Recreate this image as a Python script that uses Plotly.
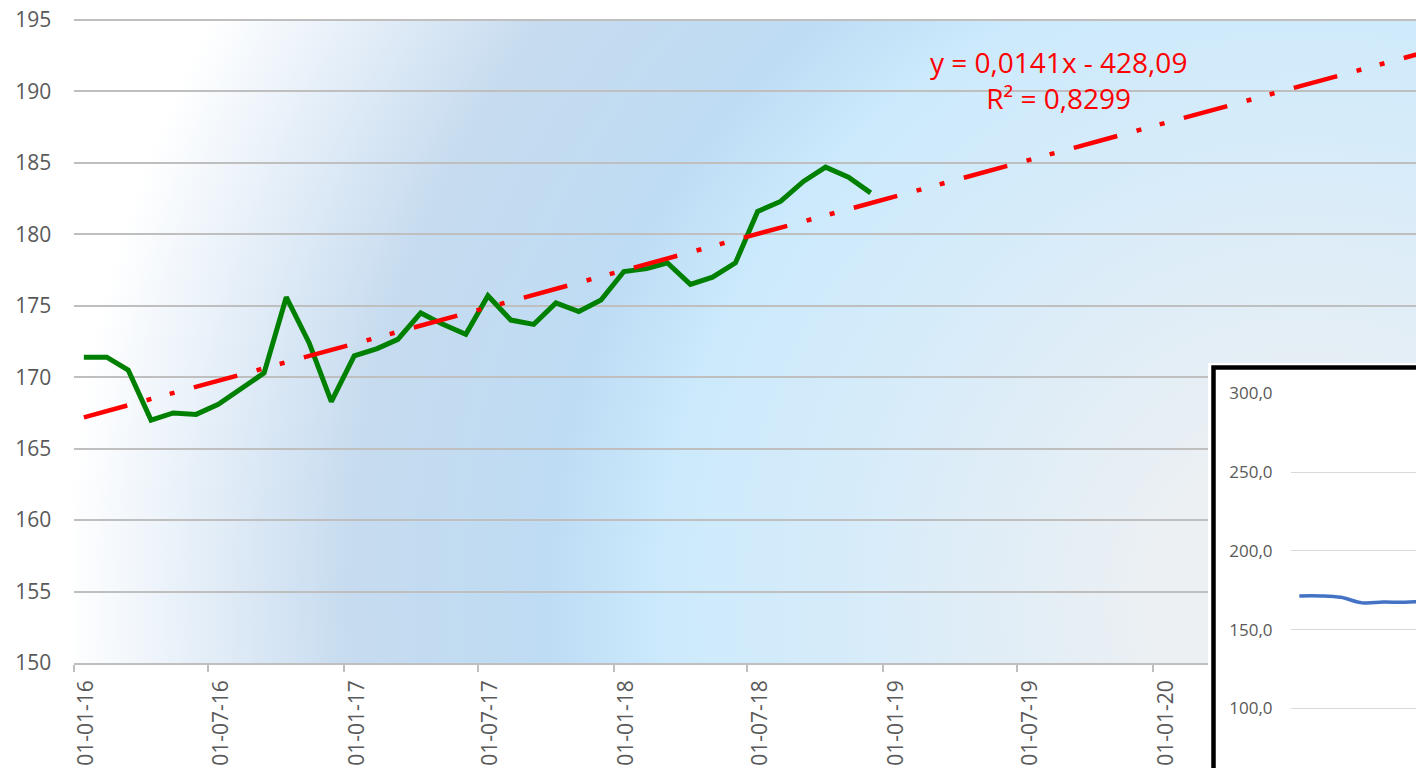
import base64
import numpy as np
import pandas as pd
import plotly.graph_objects as go

# ---------------- data ----------------
dates = pd.date_range("2016-01-15", periods=36, freq=pd.DateOffset(months=1))
values = [171.4, 171.4, 170.5, 167.0, 167.5, 167.4, 168.1, 169.2, 170.3, 175.6, 172.4, 168.3,
          171.5, 172.0, 172.65, 174.5, 173.7, 173.0, 175.7, 174.0, 173.7, 175.2, 174.6, 175.4,
          177.4, 177.6, 178.0, 176.5, 177.0, 178.0, 181.6, 182.3, 183.7, 184.7, 184.0, 182.9]
trend_forecast_end = pd.Timestamp("2021-06-15")
trend_text = "y = 0,0141x - 428,09<br>R² = 0,8299"

main_x_range = ["2016-01-01", "2021-01-02"]
main_x_ticks = ["2016-01-01", "2016-07-01", "2017-01-01", "2017-07-01", "2018-01-01",
                "2018-07-01", "2019-01-01", "2019-07-01", "2020-01-01", "2020-07-01"]
main_y_range = [150, 195.1]
main_y_ticks = [150, 155, 160, 165, 170, 175, 180, 185, 190, 195]
inset_x_range = ["2016-01-03", "2016-07-13"]
inset_y_range = [57.0 + 8 / 1.542, 300.5]
inset_y_ticks = [100, 150, 200, 250, 300]

# ---------------- linear trend (least squares on days) ----------------
days = np.array([(d - dates[0]).days for d in dates], dtype=float)
slope, intercept = np.polyfit(days, np.array(values), 1)
trend_x = [dates[0], trend_forecast_end]
trend_y = [intercept, intercept + slope * (trend_forecast_end - dates[0]).days]

# page body has an 8px margin: figure is placed at (8, 8) in the 1424x768 window
OFF = 8
W, H = 1424 - OFF, 768 - OFF


def px(x):
    return (x - OFF) / W


def py(y):
    return (H - (y - OFF)) / H


FONT = "Open Sans, Liberation Sans, sans-serif"
TICK_FONT = dict(family=FONT, size=21, color="#595959")
Y_PX_PER_UNIT = (663 - 20) / 45.0

# ---------------- gradient background (radial, Excel-like) ----------------
stops = [(0.00, "#EEF0F2"), (0.12, "#ECF0F3"), (0.27, "#DFEDF7"), (0.40, "#D4EBFA"),
         (0.52, "#CCEAFC"), (0.61, "#BEDCF4"), (0.77, "#C6DBEF"), (0.89, "#E4EEF8"),
         (1.00, "#FFFFFF")]
stop_xml = "".join(f"<stop offset='{o}' stop-color='{c}'/>" for o, c in stops)
svg = (f"<svg xmlns='http://www.w3.org/2000/svg' width='{W}' height='{H}' viewBox='0 0 {W} {H}' "
       f"preserveAspectRatio='none'><defs><radialGradient id='g' gradientUnits='userSpaceOnUse' "
       f"cx='{1306 - OFF}' cy='{600 - OFF}' r='1240'>{stop_xml}</radialGradient></defs>"
       f"<rect x='{73.5 - OFF}' y='{21 - OFF}' width='{W - 73.5 + OFF}' height='642' "
       f"fill='url(#g)'/></svg>")
svg_uri = "data:image/svg+xml;base64," + base64.b64encode(svg.encode()).decode()

fig = go.Figure()

# main series
fig.add_trace(go.Scatter(x=dates, y=values, mode="lines",
                         line=dict(color="#008000", width=5, shape="linear"),
                         xaxis="x", yaxis="y", showlegend=False, hoverinfo="skip"))
# trendline
fig.add_trace(go.Scatter(x=trend_x, y=trend_y, mode="lines",
                         line=dict(color="#FF0000", width=4.5,
                                   dash="45px,20px,5px,19px,5px,20px"),
                         xaxis="x", yaxis="y", showlegend=False, hoverinfo="skip"))
# placeholder for the inset frame subplot
fig.add_trace(go.Scatter(x=[], y=[], xaxis="x2", yaxis="y2", showlegend=False))
# inset chart
fig.add_trace(go.Scatter(x=dates, y=values, mode="lines",
                         line=dict(color="#4472C4", width=3.5, shape="spline"),
                         xaxis="x3", yaxis="y3", showlegend=False, hoverinfo="skip"))

frame_left, frame_top = 1208, 363
frame_w = (1424 - frame_left)
frame_h = (768 - frame_top)

fig.update_layout(
    template="none",
    width=W, height=H,
    margin=dict(l=0, r=0, t=0, b=0, pad=0),
    paper_bgcolor="white", plot_bgcolor="white",
    separators=", ",
    showlegend=False,
    xaxis=dict(domain=[px(73.5), 1], range=main_x_range, type="date", anchor="y",
               tickmode="array", tickvals=main_x_ticks, tickformat="%d-%m-%y",
               tickangle=-90, ticks="outside", ticklen=7, tickwidth=1.5, tickcolor="#BFBFBF",
               showline=True, linecolor="#BFBFBF", linewidth=1.5,
               showgrid=False, zeroline=False, tickfont=TICK_FONT,
               ticklabelshift=13, ticklabeloverflow="allow",
               automargin=False, fixedrange=True),
    yaxis=dict(domain=[py(663), py(20 - 0.1 * Y_PX_PER_UNIT)], range=main_y_range, anchor="x",
               tickmode="array", tickvals=main_y_ticks, ticks="outside", ticklen=17,
               tickcolor="rgba(0,0,0,0)", ticklabeloverflow="allow",
               showline=False, showgrid=True, gridcolor="#BFBFBF", gridwidth=1.5,
               zeroline=False, tickfont=TICK_FONT, automargin=False, fixedrange=True),
    xaxis2=dict(domain=[px(frame_left), 1], range=[0, 1], anchor="y2", visible=False,
                showgrid=False, zeroline=False, fixedrange=True),
    yaxis2=dict(domain=[0, py(frame_top)], range=[0, 1], anchor="x2", visible=False,
                showgrid=False, zeroline=False, fixedrange=True),
    xaxis3=dict(domain=[px(1291), 1], range=inset_x_range, type="date", anchor="y3",
                showticklabels=False, ticks="", showline=False, showgrid=False,
                zeroline=False, fixedrange=True),
    yaxis3=dict(domain=[0, py(393.3 - 0.5 * 1.542)], range=inset_y_range, anchor="x3",
                tickmode="array", tickvals=inset_y_ticks, tickformat=".1f",
                ticks="outside", ticklen=14, ticklabeloverflow="allow",
                tickcolor="rgba(0,0,0,0)", showline=False, showgrid=True,
                gridcolor="#D9D9D9", gridwidth=1, zeroline=False,
                tickfont=dict(family=FONT, size=17, color="#595959"),
                automargin=False, fixedrange=True),
    images=[dict(source=svg_uri, xref="paper", yref="paper", x=0, y=1, sizex=1, sizey=1,
                 xanchor="left", yanchor="top", sizing="stretch", layer="below")],
    shapes=[dict(type="rect", xref="x2", yref="y2",
                 x0=(1213.3 - frame_left) / (frame_w - OFF), x1=1.5,
                 y0=-0.5, y1=(768 - 367.5) / frame_h,
                 line=dict(color="black", width=4.5), fillcolor="white", layer="below")],
    annotations=[dict(text=trend_text, xref="paper", yref="paper", x=px(1058), y=py(80),
                      xanchor="center", yanchor="middle", align="center", showarrow=False,
                      font=dict(family=FONT, size=28, color="#FF0000"))],
)

fig.write_html("out.html")
